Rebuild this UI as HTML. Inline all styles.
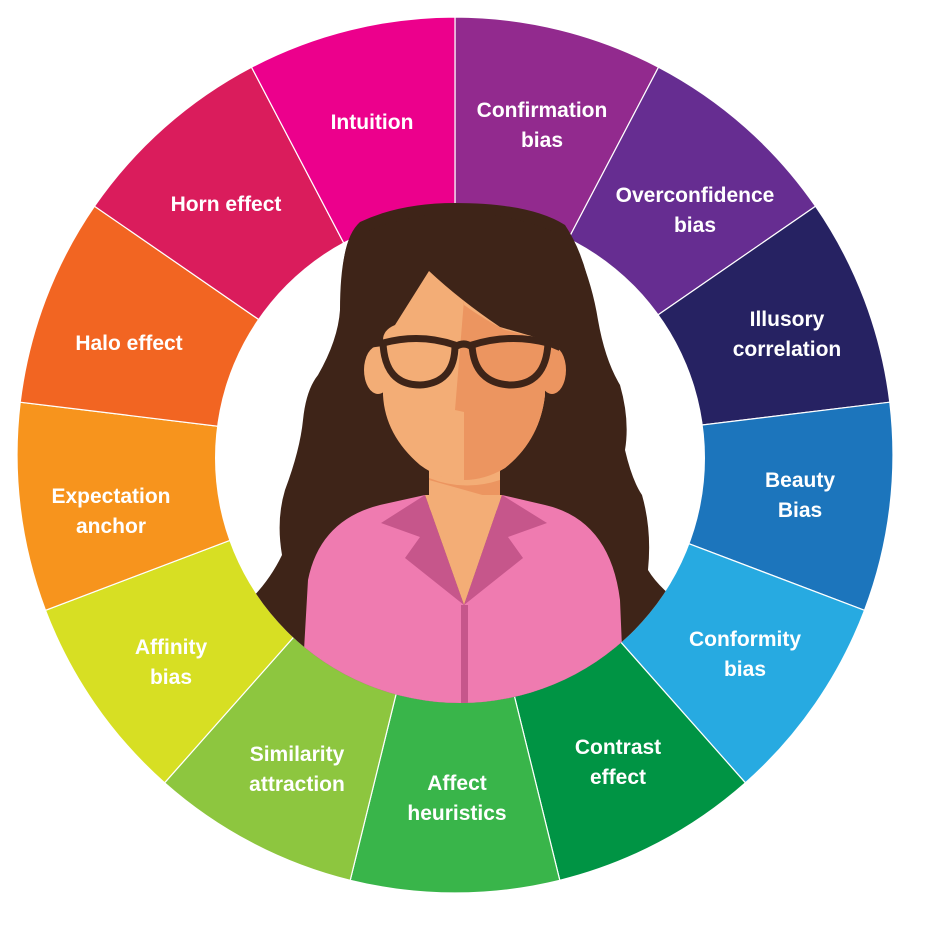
<!DOCTYPE html>
<html><head><meta charset="utf-8"><style>
html,body{margin:0;padding:0;background:#fff;}
svg{display:block;}
text{font-family:"Liberation Sans",sans-serif;font-weight:bold;font-size:21px;fill:#fff;text-anchor:middle;}
</style></head><body>
<svg width="930" height="929" viewBox="0 0 930 929" xmlns="http://www.w3.org/2000/svg">
<defs><clipPath id="ic"><circle cx="460" cy="458" r="245"/></clipPath></defs>
<g stroke="#fff" stroke-width="1.2">
<path d="M455,455 L455,17 A438,438 0 0 1 658.5,67.2 Z" fill="#922a8e"/>
<path d="M455,455 L658.5,67.2 A438,438 0 0 1 815.5,206.2 Z" fill="#662d91"/>
<path d="M455,455 L815.5,206.2 A438,438 0 0 1 889.8,402.2 Z" fill="#262262"/>
<path d="M455,455 L889.8,402.2 A438,438 0 0 1 864.5,610.3 Z" fill="#1c75bc"/>
<path d="M455,455 L864.5,610.3 A438,438 0 0 1 745.4,782.8 Z" fill="#27aae1"/>
<path d="M455,455 L745.4,782.8 A438,438 0 0 1 559.8,880.3 Z" fill="#009444"/>
<path d="M455,455 L559.8,880.3 A438,438 0 0 1 350.2,880.3 Z" fill="#39b54a"/>
<path d="M455,455 L350.2,880.3 A438,438 0 0 1 164.6,782.8 Z" fill="#8dc63f"/>
<path d="M455,455 L164.6,782.8 A438,438 0 0 1 45.5,610.3 Z" fill="#d7df23"/>
<path d="M455,455 L45.5,610.3 A438,438 0 0 1 20.2,402.2 Z" fill="#f7941d"/>
<path d="M455,455 L20.2,402.2 A438,438 0 0 1 94.5,206.2 Z" fill="#f26522"/>
<path d="M455,455 L94.5,206.2 A438,438 0 0 1 251.5,67.2 Z" fill="#da1c5c"/>
<path d="M455,455 L251.5,67.2 A438,438 0 0 1 455,17 Z" fill="#ec008c"/>
</g>
<circle cx="460" cy="458" r="245" fill="#fff"/>
<path d="M342,300 Q340,240 360,222 Q400,203 455,203 Q530,203 565,225 Q585,255 592,300 Z" fill="#3e2418"/>
<g clip-path="url(#ic)">
<path d="M360,222 Q455,195 565,225 Q590,270 598,320 Q605,360 620,385 Q630,420 625,450 Q632,480 642,495 Q652,530 648,570 Q660,590 690,610 L690,720 L240,720 L250,600 Q270,580 282,555 Q276,520 285,490 Q300,450 303,420 Q306,390 318,375 Q338,340 340,310 Q340,240 360,222 Z" fill="#3e2418"/>
<rect x="429" y="460" width="71" height="50" fill="#f3ad76"/>
<path d="M429,478 Q464,492 500,480 L500,500 Q465,490 429,480 Z" fill="#ec9560"/>
<ellipse cx="378" cy="370" rx="14" ry="24" fill="#f3ad76"/>
<ellipse cx="552" cy="370" rx="14" ry="24" fill="#ec9560"/>
<path d="M383,340 Q383,330 395,325 L429,271 Q460,300 500,327 L545,340 L545,395 Q540,440 505,468 Q485,480 464,480 Q440,480 420,465 Q385,435 383,395 Z" fill="#f3ad76"/>
<path d="M464,305 Q485,320 505,330 L545,340 L545,395 Q540,440 505,468 Q485,480 464,480 Z" fill="#ec9560"/>
<path d="M464,300 L455,410 L464,412 Z" fill="#ec9560"/>
<g fill="none" stroke="#3e2418" stroke-width="7">
<path d="M383,343 Q420,333 455,345 Q455,383 420,385 Q385,385 383,343 Z"/>
<path d="M472,345 Q510,333 548,343 Q546,385 510,385 Q474,383 472,345 Z"/>
<path d="M455,347 Q464,341 472,347"/>
</g>
<path d="M368,345 L383,343" stroke="#3e2418" stroke-width="6"/>
<path d="M548,343 L560,348" stroke="#3e2418" stroke-width="6"/>
<path d="M425,495 L380,505 Q320,520 308,580 L300,720 L625,720 L620,600 Q610,520 545,505 L502,495 L464,605 Z" fill="#ef7bb0"/>
<path d="M425,495 L502,495 L464,605 Z" fill="#f3ad76"/>
<path d="M425,495 L381,523 L420,537 L405,558 L464,605 Z" fill="#c6568b"/>
<path d="M502,495 L547,523 L508,537 L523,558 L464,605 Z" fill="#c6568b"/>
<rect x="461" y="605" width="7" height="110" fill="#c6568b"/>
</g>
<text x="372" y="129">Intuition</text>
<text x="542" y="117">Confirmation</text>
<text x="542" y="147">bias</text>
<text x="695" y="202">Overconfidence</text>
<text x="695" y="232">bias</text>
<text x="787" y="326">Illusory</text>
<text x="787" y="356">correlation</text>
<text x="800" y="487">Beauty</text>
<text x="800" y="517">Bias</text>
<text x="745" y="646">Conformity</text>
<text x="745" y="676">bias</text>
<text x="618" y="754">Contrast</text>
<text x="618" y="784">effect</text>
<text x="457" y="790">Affect</text>
<text x="457" y="820">heuristics</text>
<text x="297" y="761">Similarity</text>
<text x="297" y="791">attraction</text>
<text x="171" y="654">Affinity</text>
<text x="171" y="684">bias</text>
<text x="111" y="503">Expectation</text>
<text x="111" y="533">anchor</text>
<text x="129" y="350">Halo effect</text>
<text x="226" y="211">Horn effect</text>
</svg>
</body></html>
